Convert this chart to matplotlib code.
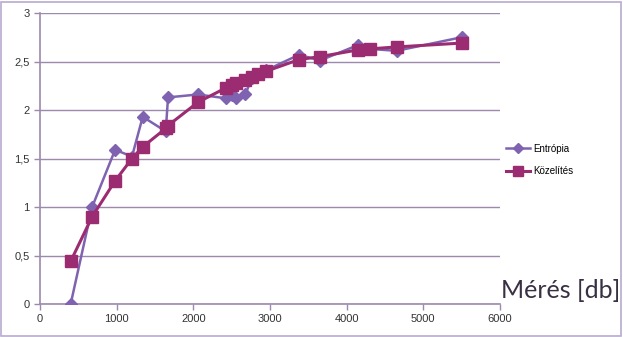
import matplotlib
matplotlib.use("Agg")
import matplotlib.pyplot as plt
from matplotlib.patches import Rectangle
from matplotlib.ticker import FuncFormatter, MultipleLocator

# Measurement counts shared by both series
meres = [400, 680, 980, 1200, 1340, 1640, 1670, 2060, 2430, 2500, 2560,
         2680, 2760, 2850, 2950, 3380, 3650, 4150, 4300, 4650, 5500]
entropia = [0.00, 1.00, 1.59, 1.52, 1.93, 1.78, 2.13, 2.16, 2.12, 2.15, 2.12,
            2.16, 2.33, 2.37, 2.41, 2.57, 2.51, 2.67, 2.63, 2.61, 2.75]
kozelites = [0.44, 0.90, 1.27, 1.50, 1.62, 1.81, 1.84, 2.08, 2.23, 2.26, 2.28,
             2.31, 2.34, 2.37, 2.40, 2.52, 2.55, 2.62, 2.63, 2.65, 2.69]

series_names = ["Entrópia", "Közelítés"]
x_label = "Mérés [db]"

plt.rcParams["font.family"] = ["Liberation Sans", "DejaVu Sans"]

W, H = 623, 337
fig = plt.figure(figsize=(W / 100, H / 100), dpi=100)
fig.patch.set_facecolor("white")

# plot area in pixels: left 40, right 500, top 13, bottom 304
ax = fig.add_axes([40 / W, 1 - 304 / H, 460 / W, 291 / H])

grid_col = "#9d89ac"
ent_col = "#7f63b0"
koz_col = "#9c2c72"

ax.plot(meres, entropia, color=ent_col, lw=1.8, marker="D", ms=6.5,
        mec=ent_col, mfc=ent_col, label=series_names[0], zorder=3)
ax.plot(meres, kozelites, color=koz_col, lw=2.2, marker="s", ms=8.5,
        mec=koz_col, mfc=koz_col, label=series_names[1], zorder=4)

ax.set_xlim(0, 6000)
ax.set_ylim(0, 3)
ax.xaxis.set_major_locator(MultipleLocator(1000))
ax.yaxis.set_major_locator(MultipleLocator(0.5))
ax.yaxis.set_major_formatter(FuncFormatter(
    lambda v, p: ("%g" % v).replace(".", ",")))

ax.grid(axis="y", color=grid_col, lw=1.0)
ax.set_axisbelow(True)
for s in ["top", "right"]:
    ax.spines[s].set_visible(False)
for s in ["left", "bottom"]:
    ax.spines[s].set_color(grid_col)
    ax.spines[s].set_linewidth(1.2)
ax.tick_params(axis="both", colors=grid_col, labelcolor="#333333",
               labelsize=8, length=4, width=1)

leg = fig.legend(loc="upper left", bbox_to_anchor=(497 / W, 1 - 135 / H),
                 frameon=False, fontsize=7, handlelength=2.5,
                 labelspacing=1.3, handletextpad=0.3, markerscale=0.8)

fig.text(620 / W, 1 - 298 / H, x_label, ha="right", va="baseline",
         fontsize=18, color="#3a3044", family=["Lato", "DejaVu Sans"])

# outer chart frame
fig.patches.append(Rectangle((1 / W, 1 / H), 1 - 3 / W, 1 - 3 / H,
                             transform=fig.transFigure, fill=False,
                             edgecolor="#b8acd0", lw=1.2))

fig.savefig("out.png", dpi=100, facecolor="white")
